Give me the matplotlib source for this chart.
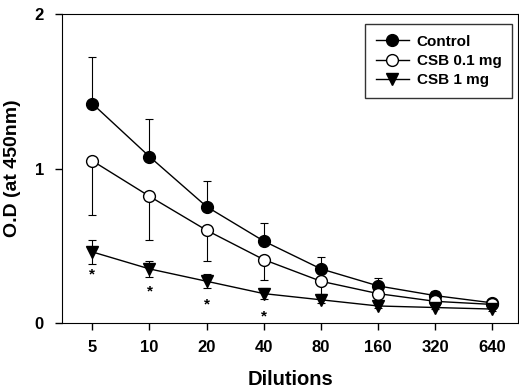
import matplotlib
matplotlib.use("Agg")
import matplotlib.pyplot as plt
from matplotlib.lines import Line2D
import numpy as np

plt.rcParams['font.family'] = ['Liberation Sans', 'DejaVu Sans']
plt.rcParams['font.weight'] = 'bold'

dilutions = ["5", "10", "20", "40", "80", "160", "320", "640"]
control = [1.42, 1.077, 0.753, 0.53, 0.35, 0.24, 0.177, 0.13]
control_err = [0.30, 0.245, 0.167, 0.115, 0.075, 0.05, 0.033, 0.01]
csb01 = [1.05, 0.82, 0.60, 0.41, 0.27, 0.19, 0.14, 0.12]
csb01_err = [0.35, 0.28, 0.20, 0.13, 0.08, 0.03, 0.02, 0.01]
csb1 = [0.46, 0.35, 0.27, 0.19, 0.15, 0.11, 0.10, 0.09]
csb1_err = [0.075, 0.05, 0.045, 0.035, 0.02, 0.01, 0.01, 0.01]
significant = [True, True, True, True, False, False, False, False]

fig = plt.figure(figsize=(5.19, 3.91), dpi=100)
ax = fig.add_axes([0.1195, 0.174, 0.879, 0.790])

x = np.arange(len(dilutions))
zeros = np.zeros(len(x))

common = dict(color='black', markersize=8.5, markeredgecolor='black', linewidth=1,
              elinewidth=0.8, capsize=3, capthick=0.8, zorder=3)
ax.errorbar(x, control, yerr=[zeros, control_err], marker='o',
            markerfacecolor='black', **common)
ax.errorbar(x, csb01, yerr=[csb01_err, zeros], marker='o',
            markerfacecolor='white', **common)
ax.errorbar(x, csb1, yerr=csb1_err, marker='v',
            markerfacecolor='black', **common)

for xi, yi, s in zip(x, csb1, significant):
    if s:
        ax.annotate('*', xy=(xi, yi), xytext=(0, -23), textcoords='offset pixels',
                    ha='center', va='center', fontsize=11, fontweight='bold')

ax.set_xlim(-0.53, 7.45)
ax.set_ylim(0, 2)
ax.set_xticks(x)
ax.set_xticklabels(dilutions)
ax.set_yticks([0, 1, 2])
ax.tick_params(axis='both', direction='out', length=5, width=1, labelsize=12)
for lab in ax.get_xticklabels() + ax.get_yticklabels():
    lab.set_fontweight('bold')
ax.tick_params(axis='x', pad=7)
ax.tick_params(axis='y', pad=8)
ax.set_xlabel('Dilutions', fontsize=14.5, fontweight='bold', labelpad=11)
ax.set_ylabel('O.D (at 450nm)', fontsize=14, fontweight='bold', labelpad=10)

handles = [
    Line2D([], [], color='black', marker='o', markersize=8.5, markerfacecolor='black', linewidth=1),
    Line2D([], [], color='black', marker='o', markersize=8.5, markerfacecolor='white', linewidth=1),
    Line2D([], [], color='black', marker='v', markersize=8.5, markerfacecolor='black', linewidth=1),
]
labels = ['Control', 'CSB 0.1 mg', 'CSB 1 mg']
leg = ax.legend(handles, labels, loc='upper right', bbox_to_anchor=(0.987, 0.968),
                borderaxespad=0, frameon=True, fancybox=False, edgecolor='black',
                fontsize=11, handlelength=2.2, borderpad=0.7, labelspacing=0.35,
                handletextpad=0.5)
leg.get_frame().set_linewidth(1)
for t in leg.get_texts():
    t.set_fontweight('bold')

fig.savefig('out.png', dpi=100)
